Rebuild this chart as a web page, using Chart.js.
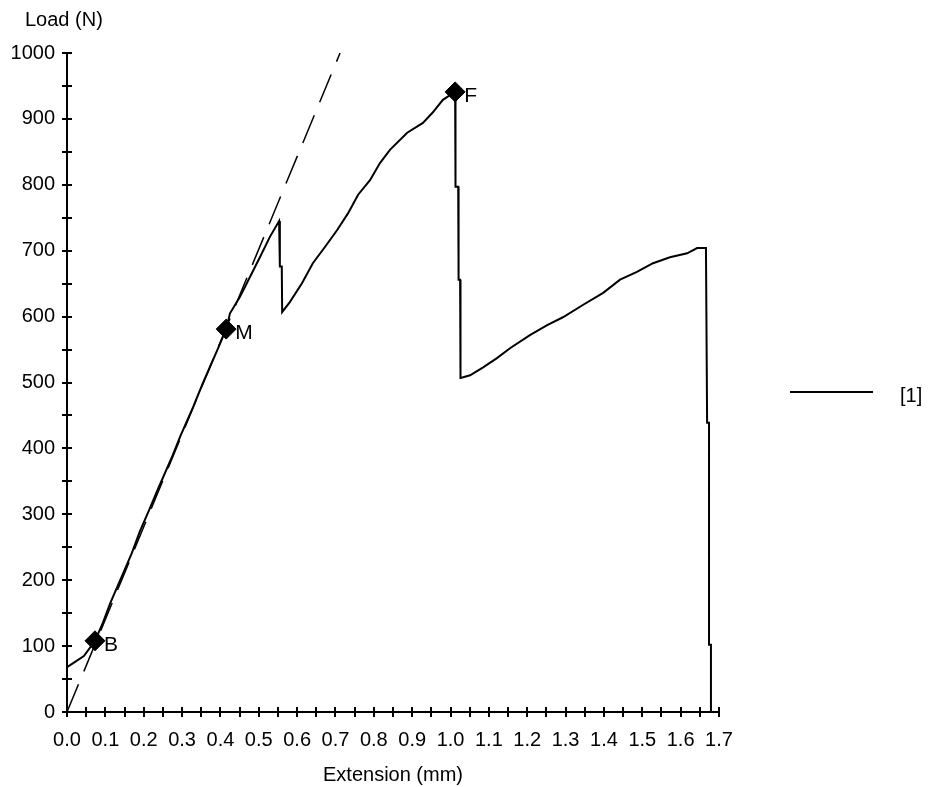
<!DOCTYPE html>
<html>
<head>
<meta charset="utf-8">
<script src="https://cdn.jsdelivr.net/npm/chart.js@4.4.0/dist/chart.umd.min.js"></script>
<style>
  html, body { margin: 0; padding: 0; background: #fff; }
  canvas { display: block; }
</style>
</head>
<body>
<canvas id="loadChart" width="930" height="787"></canvas>
<script>
'use strict';
// curve [1]
var extension = [0, 0.021, 0.044, 0.073, 0.094, 0.112, 0.146, 0.169, 0.19, 0.216, 0.237, 0.276, 0.295, 0.329, 0.355, 0.391, 0.415,
    0.425, 0.451, 0.477, 0.503, 0.529, 0.553, 0.555, 0.56, 0.561, 0.563,
    0.581, 0.613, 0.641, 0.673, 0.704, 0.733, 0.759, 0.79, 0.816, 0.842, 0.887, 0.928, 0.954, 0.98, 1.012,
    1.013, 1.02, 1.021, 1.025, 1.026, 1.033,
    1.051, 1.085, 1.121, 1.155, 1.207, 1.252, 1.293, 1.346, 1.398, 1.442, 1.486, 1.528, 1.572, 1.617, 1.643, 1.666,
    1.669, 1.674, 1.674, 1.679, 1.679];
var load = [68, 76, 85, 108, 136, 164, 210, 241, 274, 309, 338, 390, 418, 463, 500, 548, 581,
    605, 630, 660, 690, 721, 745, 676, 676, 607, 607,
    622, 651, 681, 706, 731, 757, 785, 807, 833, 853, 879, 894, 910, 929, 941,
    797, 797, 656, 656, 507, 508,
    511, 523, 537, 552, 572, 587, 599, 618, 636, 656, 668, 681, 690, 696, 704, 704,
    439, 439, 102, 102, 0];

// dashed slope line
var slopeExt = [0, 0.712];
var slopeLoad = [0, 1000];

// marked points
var markExt = [0.073, 0.415, 1.012];
var markLoad = [108, 581, 941];
var markNames = ['B', 'M', 'F'];

var xTicks = [0, 1.7, 0.1];
var yTicks = [0, 1000, 100];

function pairs(xs, ys) {
    var out = [];
    for (var i = 0; i < xs.length; i++) out.push({ x: xs[i], y: ys[i] });
    return out;
}

var FONT = 'Liberation Sans, Arial, sans-serif';

var extras = {
    id: 'extras',
    afterDraw: function (chart) {
        var ctx = chart.ctx;
        var xs = chart.scales.x, ys = chart.scales.y;
        ctx.save();
        ctx.strokeStyle = '#000';
        ctx.lineWidth = 2;
        ctx.beginPath();
        // tick marks every half step, crossing the axes
        for (var v = 0; v <= 1.7001; v += 0.05) {
            var px = Math.round(xs.getPixelForValue(v));
            ctx.moveTo(px, ys.bottom - 5);
            ctx.lineTo(px, ys.bottom + 5);
        }
        for (var w = 0; w <= 1000; w += 50) {
            var py = Math.round(ys.getPixelForValue(w));
            ctx.moveTo(xs.left - 5, py);
            ctx.lineTo(xs.left + 5, py);
        }
        ctx.stroke();

        // point names
        var meta = chart.getDatasetMeta(2);
        ctx.fillStyle = '#000';
        ctx.font = '21px ' + FONT;
        ctx.textBaseline = 'middle';
        ctx.textAlign = 'left';
        meta.data.forEach(function (pt, i) {
            ctx.fillText(markNames[i], pt.x + 9, pt.y + 4);
        });

        // y title
        ctx.font = '20px ' + FONT;
        ctx.fillText('Load (N)', 25, 20);

        // legend
        ctx.beginPath();
        ctx.moveTo(790, 392);
        ctx.lineTo(873, 392);
        ctx.stroke();
        ctx.font = '20px ' + FONT;
        ctx.fillText(chart.data.datasets[0].label, 900, 396);
        ctx.restore();
    }
};

var chart = new Chart(document.getElementById('loadChart'), {
    type: 'scatter',
    data: {
        datasets: [{
            label: '[1]',
            data: pairs(extension, load),
            showLine: true,
            borderColor: '#000',
            borderWidth: 2,
            pointRadius: 0,
            tension: 0
        }, {
            label: 'slope',
            data: pairs(slopeExt, slopeLoad),
            showLine: true,
            borderColor: '#000',
            borderWidth: 1.5,
            borderDash: [30, 14],
            pointRadius: 0
        }, {
            label: 'marks',
            data: pairs(markExt, markLoad),
            pointStyle: 'rectRot',
            pointRadius: 10,
            backgroundColor: '#000',
            borderColor: '#000',
            borderWidth: 1
        }]
    },
    plugins: [extras],
    options: {
        responsive: false,
        animation: false,
        devicePixelRatio: 1,
        layout: { padding: { left: 0, top: 53, right: 211, bottom: 0 } },
        plugins: {
            legend: { display: false },
            tooltip: { enabled: false }
        },
        scales: {
            x: {
                type: 'linear',
                min: xTicks[0],
                max: xTicks[1],
                afterFit: function (scale) { scale.height = 75; },
                grid: { display: false, drawTicks: false },
                border: { color: '#000', width: 2 },
                ticks: {
                    stepSize: xTicks[2],
                    padding: 16,
                    color: '#000',
                    font: { family: FONT, size: 20 },
                    maxRotation: 0,
                    autoSkip: false,
                    callback: function (v) { return Number(v).toFixed(1); }
                },
                title: {
                    display: true,
                    text: 'Extension (mm)',
                    color: '#000',
                    font: { family: FONT, size: 20 },
                    padding: { top: 0, bottom: 0 }
                }
            },
            y: {
                type: 'linear',
                min: yTicks[0],
                max: yTicks[1],
                afterFit: function (scale) { scale.width = 67; },
                grid: { display: false, drawTicks: false },
                border: { color: '#000', width: 2 },
                ticks: {
                    stepSize: yTicks[2],
                    padding: 12,
                    color: '#000',
                    font: { family: FONT, size: 20 },
                    callback: function (v) { return String(v); }
                }
            }
        }
    }
});
</script>
</body>
</html>
